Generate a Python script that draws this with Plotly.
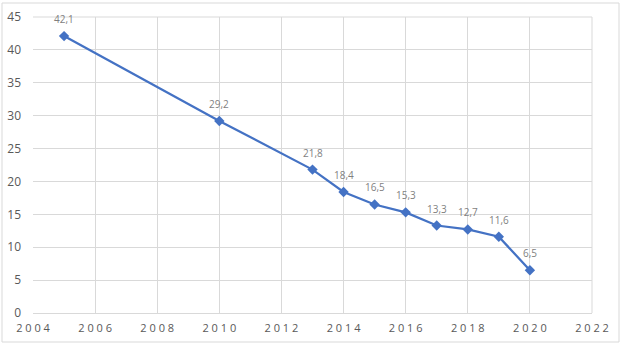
import plotly.graph_objects as go

years = [2005, 2010, 2013, 2014, 2015, 2016, 2017, 2018, 2019, 2020]
values = [42.1, 29.2, 21.8, 18.4, 16.5, 15.3, 13.3, 12.7, 11.6, 6.5]
labels = [f"{v:.1f}".replace(".", ",") for v in values]
x_ticks = list(range(2004, 2023, 2))
y_ticks = list(range(0, 46, 5))

fig = go.Figure()
fig.add_trace(go.Scatter(
    x=years, y=values, mode="lines+markers",
    line=dict(color="#4472C4", width=2.25),
    marker=dict(symbol="diamond", size=8, color="#4472C4"),
    cliponaxis=False,
))
for xv, yv, t in zip(years, values, labels):
    fig.add_annotation(x=xv, y=yv, text=t, showarrow=False, yshift=17,
                       font=dict(family="Open Sans, sans-serif", size=10, color="#7F7F7F"))

W, H = 624, 347
L, R, T, B = 33, 32, 17, 34
pw, ph = W - L - R, H - T - B

def px(x):
    return (x - L) / pw

def py(y):
    return (H - B - y) / ph

fig.update_layout(
    width=W, height=H,
    margin=dict(l=L, r=R, t=T, b=B, autoexpand=False),
    paper_bgcolor="white", plot_bgcolor="white",
    showlegend=False,
    font=dict(family="Open Sans, sans-serif", color="#595959", size=12),
    xaxis=dict(range=[2004, 2022], tickvals=x_ticks, ticktext=[" ".join(str(t)) for t in x_ticks],
               showgrid=True, gridcolor="#D9D9D9", gridwidth=1, zeroline=False, automargin=False,
               showline=True, linecolor="#D9D9D9", ticks="", tickfont=dict(size=11),
               ticklabelstandoff=5),
    yaxis=dict(range=[0, 45], tickvals=y_ticks, showgrid=True, gridcolor="#D9D9D9", automargin=False,
               gridwidth=1, zeroline=False, showline=False, ticks="", tickfont=dict(size=12),
               ticklabelstandoff=11),
    shapes=[
        dict(type="rect", xref="paper", yref="paper",
             x0=px(2), x1=px(619), y0=py(342), y1=py(3),
             line=dict(color="#D9D9D9", width=1), layer="below"),
        dict(type="line", xref="paper", yref="paper", x0=1, x1=1, y0=0, y1=1,
             line=dict(color="#D9D9D9", width=1)),
        dict(type="line", xref="paper", yref="paper", x0=0, x1=1, y0=1, y1=1,
             line=dict(color="#D9D9D9", width=1)),
    ],
)

fig.write_html("out.html", config={"displayModeBar": False},
               post_script="document.body.style.margin='0';document.body.style.overflow='hidden';")
